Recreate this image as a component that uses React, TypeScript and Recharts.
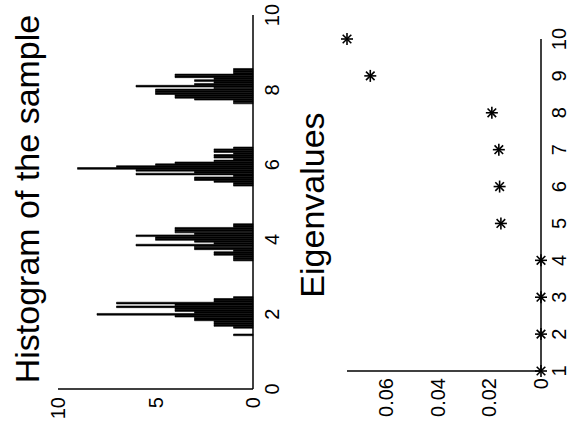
import React from 'react';
import { BarChart, Bar, ScatterChart, Scatter, XAxis, YAxis } from 'recharts';

// histogram: bin centres and counts (bins 0.05 wide)
const histBins = [
  1.45, 1.65, 1.7, 1.75, 1.8, 1.85, 1.9, 1.95, 2.0, 2.05, 2.1, 2.15, 2.2, 2.25, 2.3, 2.35, 2.4, 2.45,
  3.45, 3.5, 3.55, 3.6, 3.65, 3.7, 3.75, 3.8, 3.85, 3.9, 3.95, 4.0, 4.05, 4.1, 4.15, 4.2, 4.25, 4.3, 4.35, 4.4,
  5.45, 5.5, 5.55, 5.6, 5.65, 5.7, 5.75, 5.8, 5.85, 5.9, 5.95, 6.0, 6.05, 6.1, 6.15, 6.2, 6.25, 6.3, 6.35, 6.4, 6.45,
  7.65, 7.7, 7.75, 7.8, 7.85, 7.9, 7.95, 8.0, 8.05, 8.1, 8.15, 8.2, 8.25, 8.3, 8.35, 8.4, 8.45, 8.5, 8.55,
];
const histCounts = [
  1, 1, 2, 2, 2, 3, 3, 4, 8, 3, 4, 4, 7, 4, 7, 2, 2, 1,
  1, 1, 1, 2, 2, 1, 3, 3, 6, 2, 3, 5, 5, 6, 3, 4, 4, 4, 1, 1,
  1, 1, 2, 3, 3, 1, 6, 3, 6, 9, 7, 5, 4, 2, 1, 2, 2, 1, 2, 2, 1,
  1, 1, 3, 4, 4, 5, 5, 5, 2, 6, 3, 2, 3, 2, 4, 4, 1, 1, 1,
];
const histXTicks = [0, 2, 4, 6, 8, 10];
const histYTicks = [0, 5, 10];

// eigenvalues
const eigIndex = [1, 2, 3, 4, 5, 6, 7, 8, 9, 10];
const eigValues = [0, 0, 0, 0, 0.0155, 0.016, 0.0163, 0.019, 0.066, 0.075];
const eigXTicks = [1, 2, 3, 4, 5, 6, 7, 8, 9, 10];
const eigYTicks = [0, 0.02, 0.04, 0.06];

const histData = histBins.map((b, i) => ({ bin: b, count: histCounts[i] }));
const eigData = eigIndex.map((k, i) => ({ k, val: eigValues[i] }));

const font = '"Liberation Sans", Arial, sans-serif';
const tickStyle = { fontSize: 20, fill: '#000', fontFamily: font };
const axisLine = { stroke: '#000', strokeWidth: 1.5 };

const Asterisk = (props: any) => {
  const { cx, cy } = props;
  const r = 6;
  const d = 4.3;
  return (
    <g stroke="#000" strokeWidth={1.6}>
      <line x1={cx - r} y1={cy} x2={cx + r} y2={cy} />
      <line x1={cx} y1={cy - r} x2={cx} y2={cy + r} />
      <line x1={cx - d} y1={cy - d} x2={cx + d} y2={cy + d} />
      <line x1={cx - d} y1={cy + d} x2={cx + d} y2={cy - d} />
    </g>
  );
};

export default function App() {
  return (
    <div style={{ position: 'absolute', left: 0, top: 0, width: 573, height: 429, overflow: 'hidden', background: '#fff' }}>
      <div
        style={{
          position: 'absolute',
          left: 72,
          top: -72,
          width: 429,
          height: 573,
          transform: 'rotate(-90deg)',
          transformOrigin: 'center',
        }}
      >
        <div style={{ position: 'absolute', left: 0, top: 0 }}>
          <BarChart width={429} height={290} data={histData} margin={{ top: 58, right: 15, left: 10, bottom: 7 }}>
            <XAxis
              dataKey="bin"
              type="number"
              domain={[0, 10]}
              ticks={histXTicks}
              tickLine={false}
              tickSize={4}
              tickMargin={8}
              height={30}
              axisLine={axisLine}
              tick={tickStyle}
              allowDataOverflow
            />
            <YAxis
              type="number"
              domain={[0, 10]}
              ticks={histYTicks}
              tickLine={false}
              tickSize={4}
              tickMargin={4}
              width={30}
              axisLine={axisLine}
              tick={tickStyle}
            />
            <Bar dataKey="count" fill="#000" stroke="#000" strokeWidth={0.6} barSize={3} isAnimationActive={false} />
          </BarChart>
        </div>
        <div style={{ position: 'absolute', left: 0, top: 290 }}>
          <ScatterChart width={429} height={283} margin={{ top: 57, right: 39, left: 8, bottom: 2 }}>
            <XAxis
              dataKey="k"
              type="number"
              domain={[1, 10]}
              ticks={eigXTicks}
              tickLine={false}
              tickSize={4}
              tickMargin={7}
              height={30}
              axisLine={axisLine}
              tick={tickStyle}
            />
            <YAxis
              dataKey="val"
              type="number"
              domain={[0, 0.075]}
              ticks={eigYTicks}
              tickLine={false}
              tickSize={3}
              tickMargin={4}
              width={50}
              axisLine={axisLine}
              tick={tickStyle}
            />
            <Scatter data={eigData} shape={<Asterisk />} isAnimationActive={false} />
          </ScatterChart>
        </div>
        <svg width={429} height={573} style={{ position: 'absolute', left: 0, top: 0, pointerEvents: 'none' }}>
          <text x={230} y={39} textAnchor="middle" fontSize={34} fontFamily={font} fill="#000">
            Histogram of the sample
          </text>
          <text x={224} y={324} textAnchor="middle" fontSize={34} fontFamily={font} fill="#000">
            Eigenvalues
          </text>
        </svg>
      </div>
    </div>
  );
}
